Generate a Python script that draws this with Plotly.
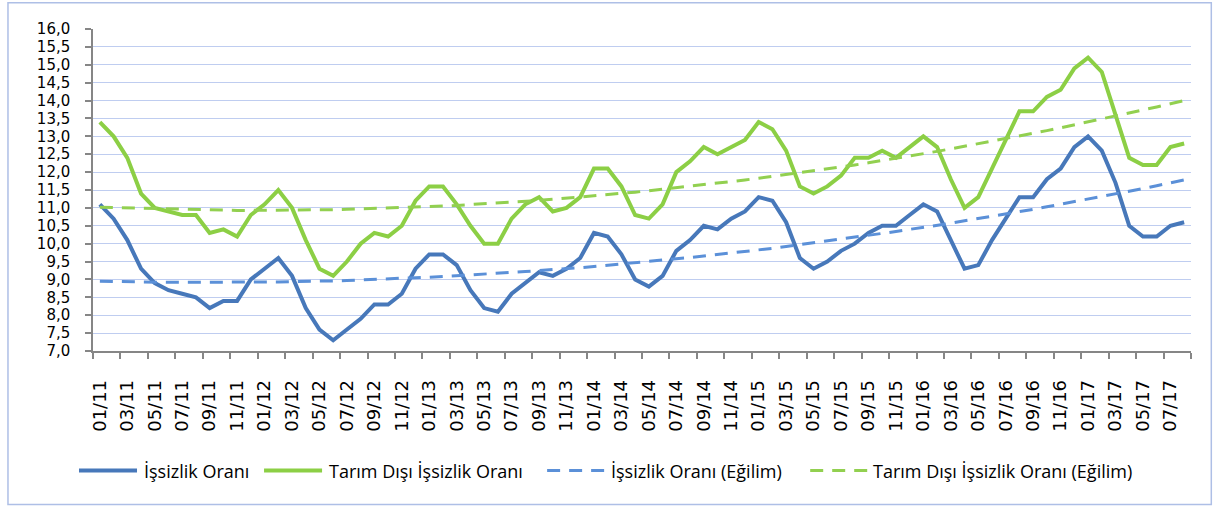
import plotly.graph_objects as go

months = [
    "01/11", "02/11", "03/11", "04/11", "05/11", "06/11", "07/11", "08/11", "09/11", "10/11", "11/11", "12/11",
    "01/12", "02/12", "03/12", "04/12", "05/12", "06/12", "07/12", "08/12", "09/12", "10/12", "11/12", "12/12",
    "01/13", "02/13", "03/13", "04/13", "05/13", "06/13", "07/13", "08/13", "09/13", "10/13", "11/13", "12/13",
    "01/14", "02/14", "03/14", "04/14", "05/14", "06/14", "07/14", "08/14", "09/14", "10/14", "11/14", "12/14",
    "01/15", "02/15", "03/15", "04/15", "05/15", "06/15", "07/15", "08/15", "09/15", "10/15", "11/15", "12/15",
    "01/16", "02/16", "03/16", "04/16", "05/16", "06/16", "07/16", "08/16", "09/16", "10/16", "11/16", "12/16",
    "01/17", "02/17", "03/17", "04/17", "05/17", "06/17", "07/17", "08/17",
]

issizlik = [
    11.1, 10.7, 10.1, 9.3, 8.9, 8.7, 8.6, 8.5, 8.2, 8.4, 8.4, 9.0,
    9.3, 9.6, 9.1, 8.2, 7.6, 7.3, 7.6, 7.9, 8.3, 8.3, 8.6, 9.3,
    9.7, 9.7, 9.4, 8.7, 8.2, 8.1, 8.6, 8.9, 9.2, 9.1, 9.3, 9.6,
    10.3, 10.2, 9.7, 9.0, 8.8, 9.1, 9.8, 10.1, 10.5, 10.4, 10.7, 10.9,
    11.3, 11.2, 10.6, 9.6, 9.3, 9.5, 9.8, 10.0, 10.3, 10.5, 10.5, 10.8,
    11.1, 10.9, 10.1, 9.3, 9.4, 10.1, 10.7, 11.3, 11.3, 11.8, 12.1, 12.7,
    13.0, 12.6, 11.7, 10.5, 10.2, 10.2, 10.5, 10.6,
]

tarim_disi = [
    13.4, 13.0, 12.4, 11.4, 11.0, 10.9, 10.8, 10.8, 10.3, 10.4, 10.2, 10.8,
    11.1, 11.5, 11.0, 10.1, 9.3, 9.1, 9.5, 10.0, 10.3, 10.2, 10.5, 11.2,
    11.6, 11.6, 11.1, 10.5, 10.0, 10.0, 10.7, 11.1, 11.3, 10.9, 11.0, 11.3,
    12.1, 12.1, 11.6, 10.8, 10.7, 11.1, 12.0, 12.3, 12.7, 12.5, 12.7, 12.9,
    13.4, 13.2, 12.6, 11.6, 11.4, 11.6, 11.9, 12.4, 12.4, 12.6, 12.4, 12.7,
    13.0, 12.7, 11.8, 11.0, 11.3, 12.1, 12.9, 13.7, 13.7, 14.1, 14.3, 14.9,
    15.2, 14.8, 13.6, 12.4, 12.2, 12.2, 12.7, 12.8,
]

issizlik_egilim = [
    8.95, 8.94, 8.93, 8.93, 8.92, 8.92, 8.92, 8.92, 8.91, 8.92, 8.92, 8.92,
    8.92, 8.93, 8.94, 8.94, 8.95, 8.96, 8.97, 8.99, 9.00, 9.01, 9.03, 9.05,
    9.06, 9.08, 9.10, 9.12, 9.15, 9.17, 9.19, 9.22, 9.25, 9.27, 9.30, 9.33,
    9.36, 9.40, 9.43, 9.46, 9.50, 9.54, 9.58, 9.61, 9.65, 9.70, 9.74, 9.78,
    9.83, 9.87, 9.92, 9.97, 10.02, 10.07, 10.12, 10.17, 10.23, 10.28, 10.34, 10.40,
    10.45, 10.51, 10.57, 10.64, 10.70, 10.76, 10.83, 10.90, 10.96, 11.03, 11.10, 11.17,
    11.24, 11.32, 11.39, 11.47, 11.54, 11.62, 11.70, 11.78,
]

tarim_disi_egilim = [
    11.02, 11.01, 10.99, 10.98, 10.97, 10.96, 10.95, 10.94, 10.94, 10.93, 10.93, 10.93,
    10.93, 10.93, 10.93, 10.94, 10.94, 10.95, 10.96, 10.97, 10.98, 10.99, 11.00, 11.02,
    11.03, 11.05, 11.07, 11.09, 11.11, 11.14, 11.16, 11.19, 11.21, 11.24, 11.27, 11.30,
    11.33, 11.37, 11.40, 11.44, 11.48, 11.52, 11.56, 11.60, 11.64, 11.69, 11.73, 11.78,
    11.83, 11.88, 11.93, 11.98, 12.03, 12.09, 12.15, 12.20, 12.26, 12.32, 12.39, 12.45,
    12.51, 12.58, 12.65, 12.72, 12.79, 12.86, 12.93, 13.01, 13.08, 13.16, 13.24, 13.32,
    13.40, 13.48, 13.56, 13.65, 13.73, 13.82, 13.91, 14.00,
]

series_names = [
    "İşsizlik Oranı",
    "Tarım Dışı İşsizlik Oranı",
    "İşsizlik Oranı (Eğilim)",
    "Tarım Dışı İşsizlik Oranı (Eğilim)",
]

BLUE = "#4778ba"
GREEN = "#8ccf45"
BLUE_T = "#5b90d8"
GREEN_T = "#92d050"

x_idx = list(range(len(months)))

fig = go.Figure()
fig.add_trace(go.Scatter(x=x_idx, y=issizlik, mode="lines", name=series_names[0],
                         line=dict(color=BLUE, width=4)))
fig.add_trace(go.Scatter(x=x_idx, y=tarim_disi, mode="lines", name=series_names[1],
                         line=dict(color=GREEN, width=4)))
fig.add_trace(go.Scatter(x=x_idx, y=issizlik_egilim, mode="lines", name=series_names[2],
                         line=dict(color=BLUE_T, width=3, dash="13px,9px")))
fig.add_trace(go.Scatter(x=x_idx, y=tarim_disi_egilim, mode="lines", name=series_names[3],
                         line=dict(color=GREEN_T, width=3, dash="13px,9px")))

# plot area geometry in pixels
L, R, T, B = 93, 1190.7, 29.3, 350.7
W, H = 1215, 508


def px2x(px):
    return (px - L) / (R - L)


def py2y(py):
    return (B - py) / (B - T)


AXIS = "#868686"
GRID = "#bfcdf0"

fig.update_layout(
    width=W, height=H, autosize=False,
    margin=dict(l=L, r=W - R, t=T, b=H - B, pad=0),
    separators=",.",
    plot_bgcolor="white", paper_bgcolor="white",
    showlegend=False,
    font=dict(family="DejaVu Sans", color="#000000"),
)

fig.update_xaxes(
    range=[-0.5, len(months) - 0.5],
    tickmode="array",
    tickvals=x_idx[::2],
    ticktext=months[::2],
    tickangle=-90,
    ticks="",
    ticklabelstandoff=20,
    tickfont=dict(family="DejaVu Sans", size=18, color="#000000"),
    showgrid=False, zeroline=False, automargin=False,
    showline=True, linecolor=AXIS, linewidth=1.5,
    minor=dict(tickmode="array", tickvals=[i - 0.5 for i in range(0, len(months) + 1, 2)],
               ticks="outside", ticklen=6, tickcolor=AXIS, tickwidth=1.5, showgrid=False),
)

fig.update_yaxes(
    range=[7, 16],
    tickmode="linear", tick0=7, dtick=0.5,
    tickformat=".1f",
    ticks="outside", ticklen=6, tickcolor=AXIS, tickwidth=1.5,
    ticklabelstandoff=12,
    tickfont=dict(family="DejaVu Sans", size=15, color="#000000"),
    showgrid=True, gridcolor=GRID, gridwidth=1.3,
    zeroline=False, automargin=False,
    showline=True, linecolor=AXIS, linewidth=1.5,
)

shapes = []
# chart border
shapes.append(dict(type="rect", xref="paper", yref="paper",
                   x0=px2x(8), x1=px2x(1211), y0=py2y(504), y1=py2y(3),
                   line=dict(color="#aebfe6", width=1.5), fillcolor="rgba(0,0,0,0)", layer="below"))

# custom legend
leg_y = 470
legend_items = [
    (79, 137, 143, BLUE, "solid", 4),
    (264, 322, 328, GREEN, "solid", 4),
    (547, 605, 610, BLUE_T, "13px,9px", 3),
    (810, 868, 872, GREEN_T, "13px,9px", 3),
]
annotations = []
for (x0, x1, tx, col, dash, w), name in zip(legend_items, series_names):
    shapes.append(dict(type="line", xref="paper", yref="paper",
                       x0=px2x(x0), x1=px2x(x1), y0=py2y(leg_y), y1=py2y(leg_y),
                       line=dict(color=col, width=w, dash=dash)))
    annotations.append(dict(xref="paper", yref="paper", x=px2x(tx), y=py2y(leg_y),
                            xanchor="left", yanchor="middle", showarrow=False,
                            text=name, borderpad=0,
                            font=dict(family="Open Sans", size=18, color="#000000")))

fig.update_layout(shapes=shapes, annotations=annotations)

fig.write_html("out.html", config={"displayModeBar": False},
               post_script="document.body.style.margin='0px';")
